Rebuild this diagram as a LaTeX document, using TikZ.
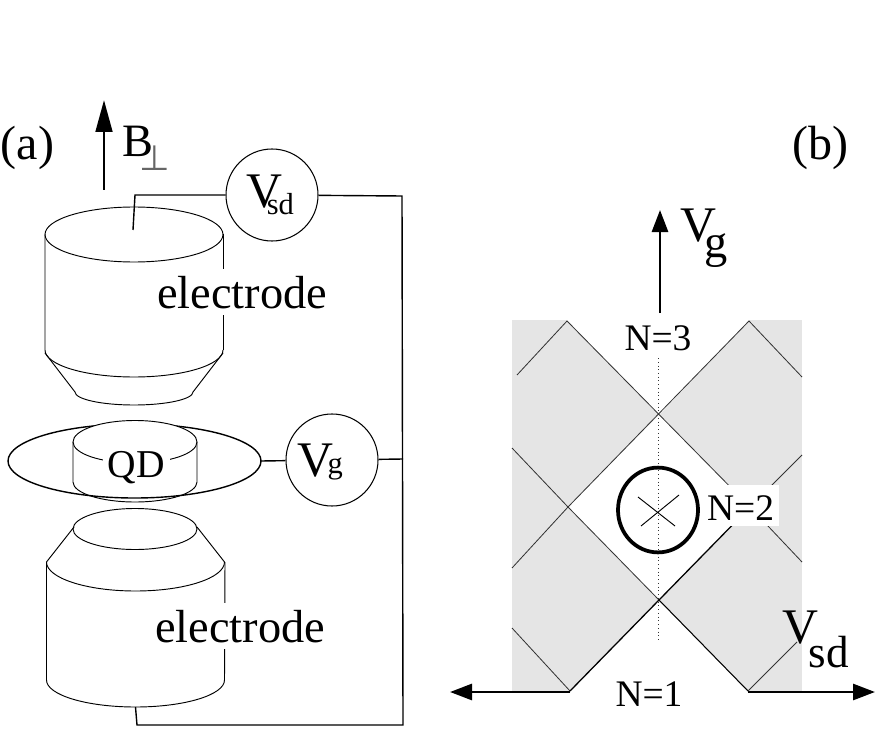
\documentclass[tikz,border=0pt]{standalone}
\usepackage{fontspec}
\setmainfont{Liberation Serif}
\newfontfamily\symfont{DejaVu Sans}
\usepackage{tikz}
\usetikzlibrary{arrows.meta}
\newcommand{\bigsize}{\fontsize{39.6}{40}\selectfont}
\newcommand{\voltsize}{\fontsize{42.5}{43}\selectfont}
\newcommand{\parsize}{\fontsize{41}{42}\selectfont}
\newcommand{\midsize}{\fontsize{32}{33}\selectfont}
\newcommand{\subsize}{\fontsize{26}{27}\selectfont}
\tikzset{
  lab/.style={inner sep=0pt,anchor=base,font=\bigsize},
  numlab/.style={inner sep=0pt,anchor=base,font=\midsize},
  voltlab/.style={inner sep=0pt,anchor=base west,font=\voltsize},
  meter/.style={circle,draw,line width=0.9pt,inner sep=0pt,minimum size=2.76cm,font=\voltsize},
  elec/.style={line width=0.8pt},
  wire/.style={line width=1.2pt},
  diag/.style={line width=0.7pt,black!80},
  big arrow/.style={line width=2.4pt,-{Triangle[length=0.66cm,width=0.48cm]}}
}
\begin{document}
\begin{tikzpicture}[x=0.03cm,y=-0.03cm]
            \useasboundingbox (0,0) rectangle (879,739);
            % (a) upper electrode
            \draw[elec] (134,234.5) ellipse [x radius=89,y radius=27.5];
            \draw[elec] (45,234.5) -- (45,350) arc [start angle=180,end angle=0,x radius=89,y radius=27];
            \draw[elec] (223,350) -- (223,234.5);
            \draw[elec] (45,353) -- (75,392) arc [start angle=180,end angle=0,x radius=59,y radius=13] -- (223,353);
            % (a) lower electrode
            \draw[elec] (135,529) ellipse [x radius=62,y radius=20.5];
            \draw[elec] (74,527) -- (46.5,562) arc [start angle=180,end angle=0,x radius=89,y radius=29] -- (197,527);
            \draw[elec] (46.5,562) -- (46.5,680) arc [start angle=180,end angle=0,x radius=89,y radius=27] -- (225,562);
            % (a) quantum dot
            \draw[line width=1.2pt] (8,461) arc [start angle=180,end angle=360,x radius=126.5,y radius=37];
            \draw[elec,fill=white] (73,442) arc [start angle=180,end angle=360,x radius=62,y radius=21.5] -- (197,482) arc [start angle=0,end angle=180,x radius=62,y radius=20] -- cycle;
            \draw[elec] (73,442) arc [start angle=180,end angle=0,x radius=62,y radius=21];
            \draw[line width=1.2pt] (8,461) arc [start angle=180,end angle=0,x radius=126.5,y radius=37];
            \node[lab,font=\fontsize{33.7}{34}\selectfont,fill=white,inner sep=4pt] (qd) at (136.5,477) {QD};
            \node[lab,fill=white,inner sep=6pt] (elup) at (242,308) {electrode};
            \node[lab,fill=white,inner sep=6pt] (eldown) at (240,642) {electrode};
            % meters and wires
            \node[meter,text height=27.3pt,text depth=6.8pt] (vsd) at (272,195) {V\kern-13pt\raisebox{-6pt}{\subsize sd}\kern3.4pt};
            \node[meter,text height=35pt,text depth=6pt] (vg) at (332,460) {V\kern-5pt\raisebox{3pt}{\subsize g}\kern20pt};
            \coordinate (topend) at (133,230);
            \coordinate (topcorner) at (135,195);
            \coordinate (rightup) at (402,196);
            \coordinate (rightmid) at (403,459);
            \coordinate (rightdown) at (403,725);
            \coordinate (botcorner) at (137,725);
            \coordinate (botend) at (135.5,707);
            \coordinate (dotedge) at (261,461);
            \draw[wire] (topend) -- (topcorner) -- (vsd);
            \draw[wire] (vsd) -- (rightup) -- (rightdown) -- (botcorner) -- (botend);
            \draw[wire] (dotedge) -- (vg);
            \draw[wire] (vg) -- (rightmid);
            % (a) labels
            \coordinate (bfoot) at (104,190);
            \coordinate (btip) at (104,100);
            \draw[line width=2.4pt,-{Triangle[length=0.96cm,width=0.5cm]}] (bfoot) -- (btip);
            \node[lab] (bfield) at (138,157) {B};
            \node[inner sep=0pt,anchor=base,font=\symfont\fontsize{30}{30}\selectfont,text=black!60] (bperp) at (155,171) {⊥};
            \node[lab,font=\parsize] (la) at (27.5,160) {(a)};
            \node[lab,font=\parsize] (lb) at (820.5,160) {(b)};
            % (b) stability diagram
            \fill[black!10] (512,320) rectangle (802,692);
            \fill[white] (567,320) -- (749,320) -- (659,415) -- cycle;
            \fill[white] (659,415) -- (750,507) -- (659,600) -- (568,507) -- cycle;
            \fill[white] (659,600) -- (748,692) -- (570,692) -- cycle;
            \draw[diag] (517,375) -- (567,321) -- (750,507) -- (802,562);
            \draw[diag] (802,377) -- (749,321) -- (568,507) -- (512,568);
            \draw[diag] (512,448) -- (568,507) -- (659,600);
            \draw[diag] (802,455) -- (750,507);
            \draw[diag] (512,628) -- (570,691);
            \draw[line width=1.1pt] (570,691) -- (659,600) -- (750,507);
            \draw[line width=0.9pt] (659,600) -- (748,691);
            \draw[diag] (748,691) -- (797,642);
            \coordinate (dottop) at (658,358);
            \coordinate (dotbot) at (658,642);
            \draw[dash pattern=on 0.8pt off 2.4pt,line width=0.8pt,black!80] (dottop) -- (dotbot);
            \node[numlab,fill=white,inner sep=0pt,text height=30pt,text depth=5pt,minimum width=2.2cm] (ntwo) at (742,520) {N=2\kern2.5pt};
            \node[numlab] (nthree) at (658,350) {N=3};
            \node[numlab] (none) at (649,706) {N=1};
            \node[circle,draw,line width=3.2pt,inner sep=0pt,minimum size=2.4cm,yscale=1.06] (xcirc) at (658,510) {};
            \coordinate (xa) at (638,497);
            \coordinate (xb) at (675,526);
            \coordinate (xc) at (679,495);
            \coordinate (xd) at (641,526);
            \draw[line width=0.8pt] (xa) -- (xb);
            \draw[line width=0.8pt] (xc) -- (xd);
            \coordinate (gfoot) at (660,313);
            \coordinate (gtip) at (660,210);
            \coordinate (sdleft) at (570,692);
            \coordinate (sdleftend) at (450,692);
            \coordinate (sdright) at (748,692);
            \coordinate (sdrightend) at (875,692);
            \draw[big arrow] (gfoot) -- (gtip);
            \draw[big arrow] (sdleft) -- (sdleftend);
            \draw[big arrow] (sdright) -- (sdrightend);
            \node[voltlab] (vgb) at (680,241) {V\kern-10pt\raisebox{-14.5pt}{\bigsize g}};
            \node[voltlab] (vsdb) at (782,643) {V\kern-8pt\raisebox{-21pt}{\fontsize{38.5}{39}\selectfont sd}};
        \end{tikzpicture}
\end{document}
